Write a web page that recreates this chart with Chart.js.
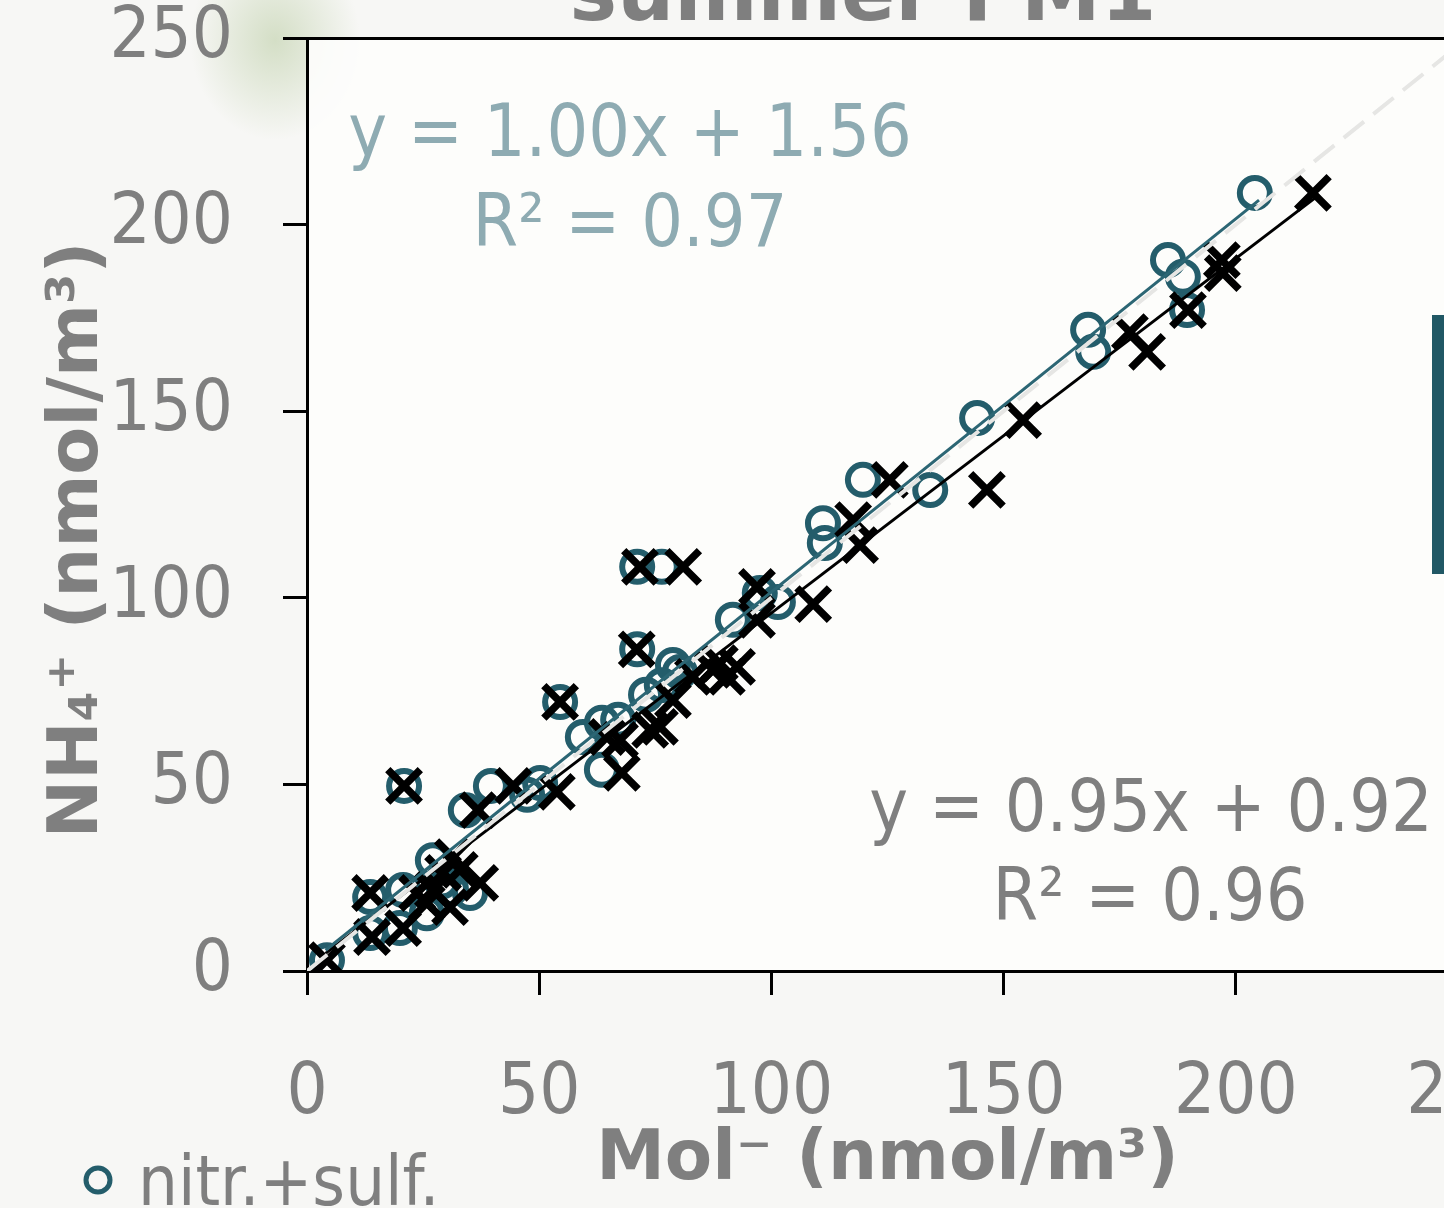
<!DOCTYPE html>
<html>
<head>
<meta charset="utf-8">
<script src="https://cdn.jsdelivr.net/npm/chart.js@4.4.1/dist/chart.umd.min.js"></script>
<style>
  html, body { margin: 0; padding: 0; }
  body {
    width: 1444px; height: 1208px; overflow: hidden; position: relative;
    background:
      radial-gradient(ellipse 85px 100px at 275px 40px, rgba(200,214,182,0.75), rgba(200,214,182,0) 100%),
      #f7f7f5;
  }
  #chart { position: absolute; left: 0; top: -60px; }
</style>
</head>
<body>
<canvas id="chart" width="1540" height="1300"></canvas>
<script>
const FONT = "'DejaVu Sans Condensed', 'DejaVu Sans', sans-serif"
const BOLD_FONT = "'DejaVu Sans', sans-serif"
const GREY = '#7f7f7f'
const TEAL = '#245d6b'

// nitr.+sulf. (circles)
const circX = [4.3, 13.6, 13.6, 20.0, 20.7, 25.8, 27.1, 29.0, 31.0, 35.1,
  34.2, 20.9, 39.6, 47.4, 50.2, 54.5, 59.4, 63.5, 67.0, 63.5,
  71.1, 71.1, 76.4, 73.0, 76.4, 78.8, 80.3, 91.7, 97.5, 101.4,
  111.1, 111.5, 119.7, 134.2, 144.3, 168.2, 169.3, 185.4, 188.6, 189.5,
  204.1]
const circY = [2.9, 19.8, 10.2, 11.5, 21.7, 15.5, 29.7, 24.0, 22.0, 20.9,
  43.1, 49.6, 49.6, 47.2, 50.4, 72.1, 62.7, 66.5, 67.3, 53.9,
  86.2, 108.3, 108.3, 74.0, 76.6, 82.0, 80.1, 94.1, 101.3, 98.9,
  120.0, 114.7, 131.6, 128.9, 148.2, 171.8, 165.9, 190.5, 186.0, 177.1,
  208.5]

// second anion sum (crosses)
const crossX = [4.3, 13.6, 14.0, 20.7, 23.7, 25.8, 27.1, 29.3, 30.8, 32.9,
  31.4, 37.3, 20.9, 36.8, 44.4, 53.8, 54.5, 64.6, 67.4, 67.8,
  73.9, 76.0, 78.8, 83.1, 87.4, 88.9, 90.4, 92.6, 71.0, 71.7,
  81.0, 96.9, 96.9, 109.0, 117.6, 119.1, 125.5, 146.4, 154.2, 177.2,
  180.9, 189.7, 197.0, 197.2, 216.6]
const crossY = [2.9, 20.9, 9.1, 11.5, 20.9, 18.2, 21.7, 26.3, 17.1, 27.1,
  30.5, 23.6, 49.6, 43.1, 49.6, 48.0, 72.1, 62.7, 61.9, 53.1,
  64.6, 65.4, 72.6, 78.8, 80.7, 82.5, 78.8, 81.5, 86.2, 108.3,
  108.3, 102.9, 94.1, 98.3, 120.8, 114.1, 131.6, 128.9, 147.6, 171.2,
  165.9, 177.1, 190.5, 187.0, 208.5]

// fitted lines (slope, intercept as printed) and their x extent
const tealFit = { slope: 1.00, intercept: 1.56, xRange: [4, 205] }
const blackFit = { slope: 0.95, intercept: 0.92, xRange: [4, 218] }
const oneToOne = [0, 250]

const axisTicks = [0, 50, 100, 150, 200, 250]

const pts = (xs, ys) => xs.map((x, i) => ({ x, y: ys[i] }))
const fitPts = f => f.xRange.map(x => ({ x, y: f.slope * x + f.intercept }))

const decor = {
  id: 'decor',
  beforeDraw(chart) {
    const { ctx, chartArea: a } = chart
    ctx.save()
    ctx.fillStyle = 'rgba(253,253,252,0.9)'
    ctx.fillRect(a.left, a.top, a.right - a.left, a.bottom - a.top)
    ctx.restore()
  },
  afterDraw(chart) {
    const ctx = chart.ctx
    ctx.save()
    // title (mostly cut off above)
    ctx.fillStyle = GREY
    ctx.textAlign = 'center'
    ctx.textBaseline = 'alphabetic'
    ctx.font = `bold 80px ${BOLD_FONT}`
    ctx.fillText('summer PM1', 863, 80)

    // y axis title
    ctx.save()
    ctx.translate(97, 600)
    ctx.rotate(-Math.PI / 2)
    ctx.font = `bold 70px ${BOLD_FONT}`
    ctx.fillText('NH\u2084\u207A (nmol/m\u00B3)', 0, 0)
    ctx.restore()

    // regression labels
    ctx.font = `73px ${FONT}`
    ctx.fillStyle = '#8eabb2'
    ctx.fillText('y = 1.00x + 1.56', 630, 216)
    ctx.fillText('R\u00B2 = 0.97', 630, 306)
    ctx.fillStyle = GREY
    ctx.fillText('y = 0.95x + 0.92', 1151, 891)
    ctx.fillText('R\u00B2 = 0.96', 1150, 980)

    // legend
    ctx.strokeStyle = TEAL
    ctx.lineWidth = 5
    ctx.beginPath()
    ctx.arc(98, 1240, 12, 0, Math.PI * 2)
    ctx.stroke()
    ctx.textAlign = 'left'
    ctx.fillStyle = GREY
    ctx.font = `70px ${FONT}`
    ctx.fillText('nitr.+sulf.', 138, 1265)

    // edge of a box at the right
    ctx.fillStyle = '#215865'
    ctx.fillRect(1432, 375, 40, 259)
    ctx.restore()
  }
}

const tickFont = { family: FONT, size: 72 }
const gridOpts = { drawOnChartArea: false, drawTicks: true, tickLength: 24, tickWidth: 3, tickColor: '#000' }

new Chart(document.getElementById('chart'), {
  type: 'scatter',
  data: {
    datasets: [
      {
        label: '1:1',
        data: oneToOne.map(v => ({ x: v, y: v })),
        showLine: true,
        borderColor: '#e6e6e4',
        borderWidth: 4,
        borderDash: [26, 12],
        pointRadius: 0,
        order: 0
      },
      {
        label: 'fit nitr.+sulf.',
        data: fitPts(tealFit),
        showLine: true,
        borderColor: '#2c6674',
        borderWidth: 3,
        pointRadius: 0,
        order: 1
      },
      {
        label: 'fit',
        data: fitPts(blackFit),
        showLine: true,
        borderColor: '#000',
        borderWidth: 3,
        pointRadius: 0,
        order: 2
      },
      {
        label: 'x',
        data: pts(crossX, crossY),
        pointStyle: 'crossRot',
        pointRadius: 23,
        borderWidth: 7.5,
        borderColor: '#000',
        backgroundColor: '#000',
        order: 3
      },
      {
        label: 'nitr.+sulf.',
        data: pts(circX, circY),
        pointStyle: 'circle',
        pointRadius: 15,
        borderWidth: 6,
        borderColor: TEAL,
        backgroundColor: 'rgba(0,0,0,0)',
        order: 4
      }
    ]
  },
  options: {
    responsive: false,
    devicePixelRatio: 1,
    animation: false,
    layout: { padding: { top: 98, left: 0, right: 72, bottom: 0 } },
    plugins: { legend: { display: false }, tooltip: { enabled: false } },
    scales: {
      x: {
        type: 'linear', position: 'bottom', min: 0, max: 250,
        afterBuildTicks: s => { s.ticks = axisTicks.map(v => ({ value: v })) },
        ticks: { color: GREY, font: tickFont, padding: 56, maxRotation: 0 },
        grid: gridOpts,
        border: { color: '#000', width: 3 },
        title: {
          display: true, text: 'Mol\u207B (nmol/m\u00B3)', color: GREY,
          font: { family: BOLD_FONT, size: 69, weight: 'bold' },
          padding: { top: 0, bottom: 38 }
        },
        afterFit: s => { s.height = 269; s.paddingLeft = 0; s.paddingRight = 0 }
      },
      x2: {
        type: 'linear', position: 'top', min: 0, max: 250,
        ticks: { display: false },
        grid: { drawOnChartArea: false, drawTicks: false },
        border: { color: '#000', width: 3 },
        afterFit: s => { s.height = 0; s.paddingLeft = 0; s.paddingRight = 0 }
      },
      y: {
        type: 'linear', position: 'left', min: 0, max: 250,
        afterBuildTicks: s => { s.ticks = axisTicks.map(v => ({ value: v })) },
        ticks: { color: GREY, font: tickFont, padding: 50 },
        grid: gridOpts,
        border: { color: '#000', width: 3 },
        afterFit: s => { s.width = 307; s.paddingTop = 0; s.paddingBottom = 0 }
      }
    }
  },
  plugins: [decor]
})
</script>
</body>
</html>
